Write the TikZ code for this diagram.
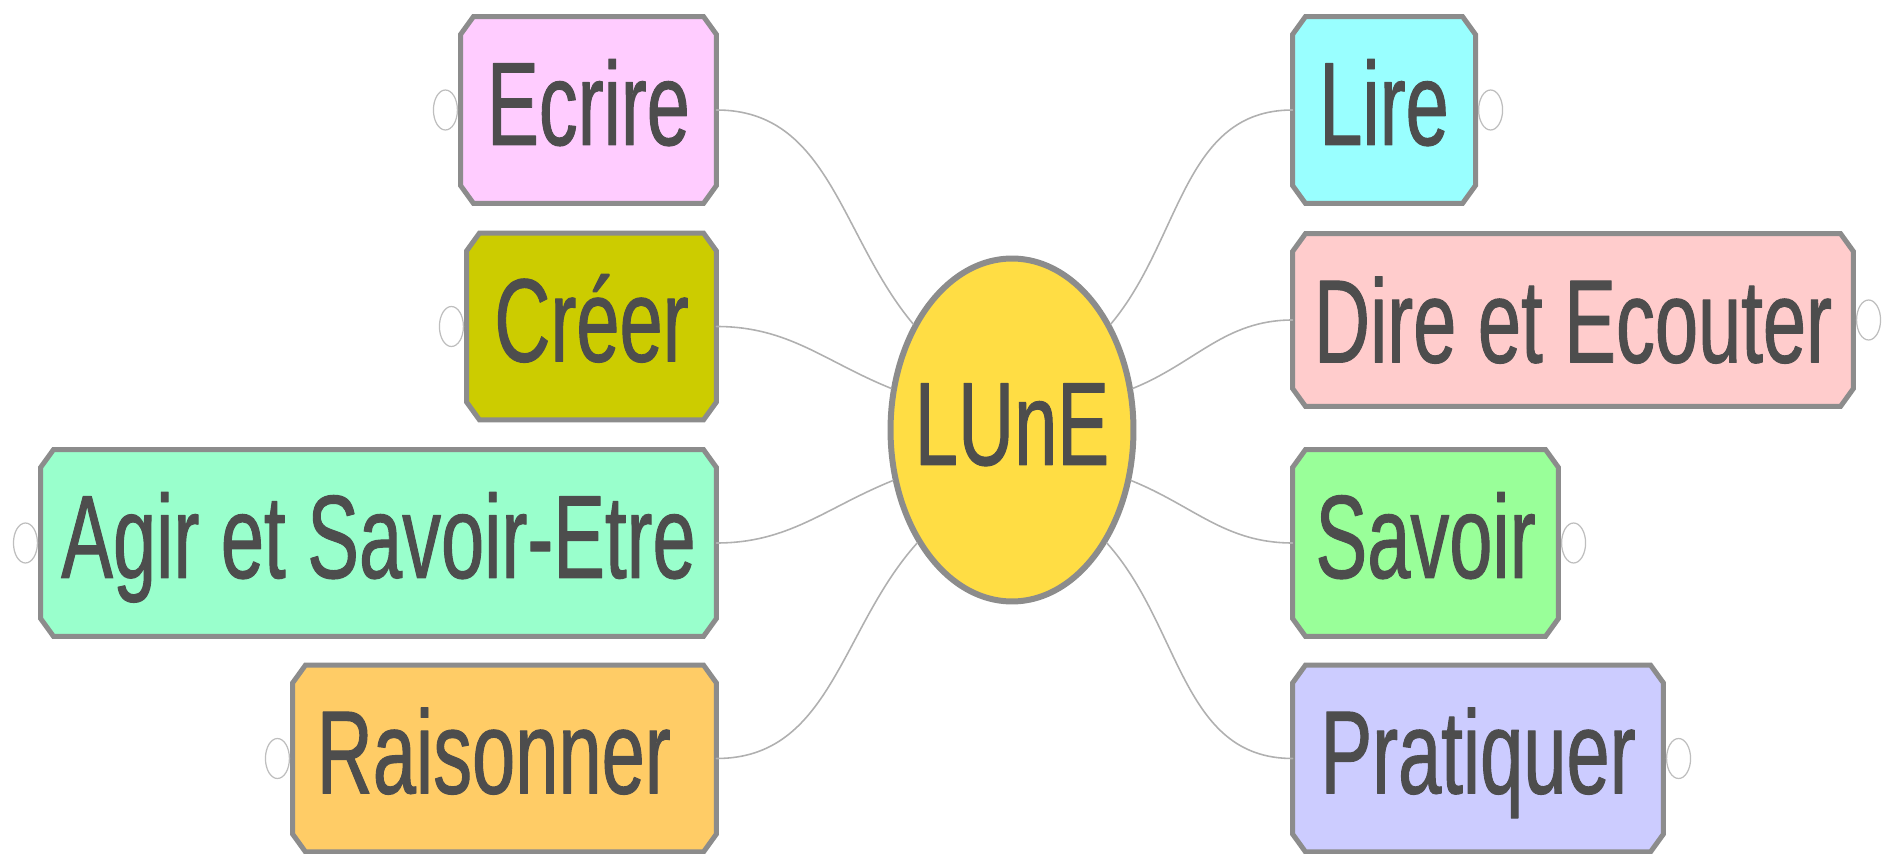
\documentclass[tikz,border=0pt]{standalone}
\usepackage{fontspec}
\setmainfont{Liberation Sans}[FakeStretch=0.655, FakeBold=0.8]
\usetikzlibrary{shapes.geometric,positioning,backgrounds}
\definecolor{bordergray}{HTML}{8C8C8C}
\definecolor{textgray}{HTML}{4D4D4D}
\definecolor{linkgray}{HTML}{B0B0B0}
\definecolor{togglegray}{HTML}{BEBEBE}
\definecolor{lunefill}{HTML}{FFDD44}
\definecolor{ecrirefill}{HTML}{FFCCFF}
\definecolor{creerfill}{HTML}{CCCC00}
\definecolor{agirfill}{HTML}{99FFCC}
\definecolor{raisonnerfill}{HTML}{FFCC66}
\definecolor{lirefill}{HTML}{99FFFF}
\definecolor{direfill}{HTML}{FFCCCC}
\definecolor{savoirfill}{HTML}{99FF99}
\definecolor{pratiquerfill}{HTML}{CCCCFF}
\newcommand\mapfont{\fontsize{67.5}{70}\selectfont}
% chamfered outline behind a node
\newcommand\chamfbox[2]{%
  \filldraw[draw=bordergray, line width=0.1cm, fill=#2]
  ([xshift=0.26cm]#1.north west) -- ([xshift=-0.26cm]#1.north east)
  -- ([yshift=-0.36cm]#1.north east) -- ([yshift=0.36cm]#1.south east)
  -- ([xshift=-0.26cm]#1.south east) -- ([xshift=0.26cm]#1.south west)
  -- ([yshift=0.36cm]#1.south west) -- ([yshift=-0.36cm]#1.north west) -- cycle;}
\begin{document}
\begin{tikzpicture}[x=0.02cm, y=-0.02cm, line join=round, line cap=round,
    branch/.style={rectangle, text=textgray, font=\mapfont, inner sep=0pt,
      outer sep=0pt, text height=1.7cm, text depth=0.3cm, minimum height=3.74cm},
    toggle/.style={ellipse, draw=togglegray, fill=white, line width=0.7pt,
      minimum width=0.48cm, minimum height=0.8cm, inner sep=0pt},
    link/.style={draw=linkgray, line width=0.9pt}]
    \useasboundingbox (0,0) rectangle (1886,854);
    % centre
    \node[ellipse, draw=bordergray, fill=lunefill, line width=0.12cm,
      minimum width=4.86cm, minimum height=6.86cm, inner sep=0pt] (lune) at (1012,430) {};
    \node[text=textgray, font=\mapfont, inner sep=0pt, text height=1.7cm, text depth=0.3cm] (lunetext) at (lune) {LUnE};
    % left branches
    \node[branch, minimum width=5.12cm] (ecrire) at (588.5,110) {Ecrire};
    \node[branch, minimum width=5cm] (creer) at (591.5,326.5) {Créer};
    \node[branch, minimum width=13.52cm] (agir) at (378.5,543) {Agir et Savoir-Etre};
    \node[branch, minimum width=8.48cm] (raisonner) at (504.5,758.5) {Raisonner\rule{0.43cm}{0pt}};
    % right branches
    \node[branch, minimum width=3.66cm] (lire) at (1384,110) {Lire};
    \node[branch, minimum width=11.22cm, minimum height=3.46cm, text depth=0pt] (dire) at (1573,320) {Dire et Ecouter};
    \node[branch, minimum width=5.32cm] (savoir) at (1425.5,543) {Savoir};
    \node[branch, minimum width=7.42cm] (pratiquer) at (1478,758.5) {Pratiquer};
    \begin{scope}[on background layer]
      \foreach \n in {ecrire,creer,agir,raisonner,lire,dire,savoir,pratiquer}
        \chamfbox{\n}{\n fill};
    \end{scope}
    % toggles
    \node[toggle, left=0.05cm of ecrire] (ecrireT) {};
    \node[toggle, left=0.05cm of creer] (creerT) {};
    \node[toggle, left=0.05cm of agir] (agirT) {};
    \node[toggle, left=0.05cm of raisonner] (raisonnerT) {};
    \node[toggle, right=0.05cm of lire] (lireT) {};
    \node[toggle, right=0.05cm of dire] (direT) {};
    \node[toggle, right=0.05cm of savoir] (savoirT) {};
    \node[toggle, right=0.05cm of pratiquer] (pratiquerT) {};
    % links
    \draw[link] (ecrire.east) to[out=0, in=130] (lune.133);
    \draw[link] (creer.east) to[out=0, in=158] (lune.161);
    \draw[link] (agir.east) to[out=0, in=202] (lune.203);
    \draw[link] (raisonner.east) to[out=0, in=228] (lune.230);
    \draw[link] (lire.west) to[out=180, in=50] (lune.47);
    \draw[link] (dire.west) to[out=180, in=22] (lune.19);
    \draw[link] (savoir.west) to[out=180, in=338] (lune.337);
    \draw[link] (pratiquer.west) to[out=180, in=312] (lune.310);
\end{tikzpicture}
\end{document}
